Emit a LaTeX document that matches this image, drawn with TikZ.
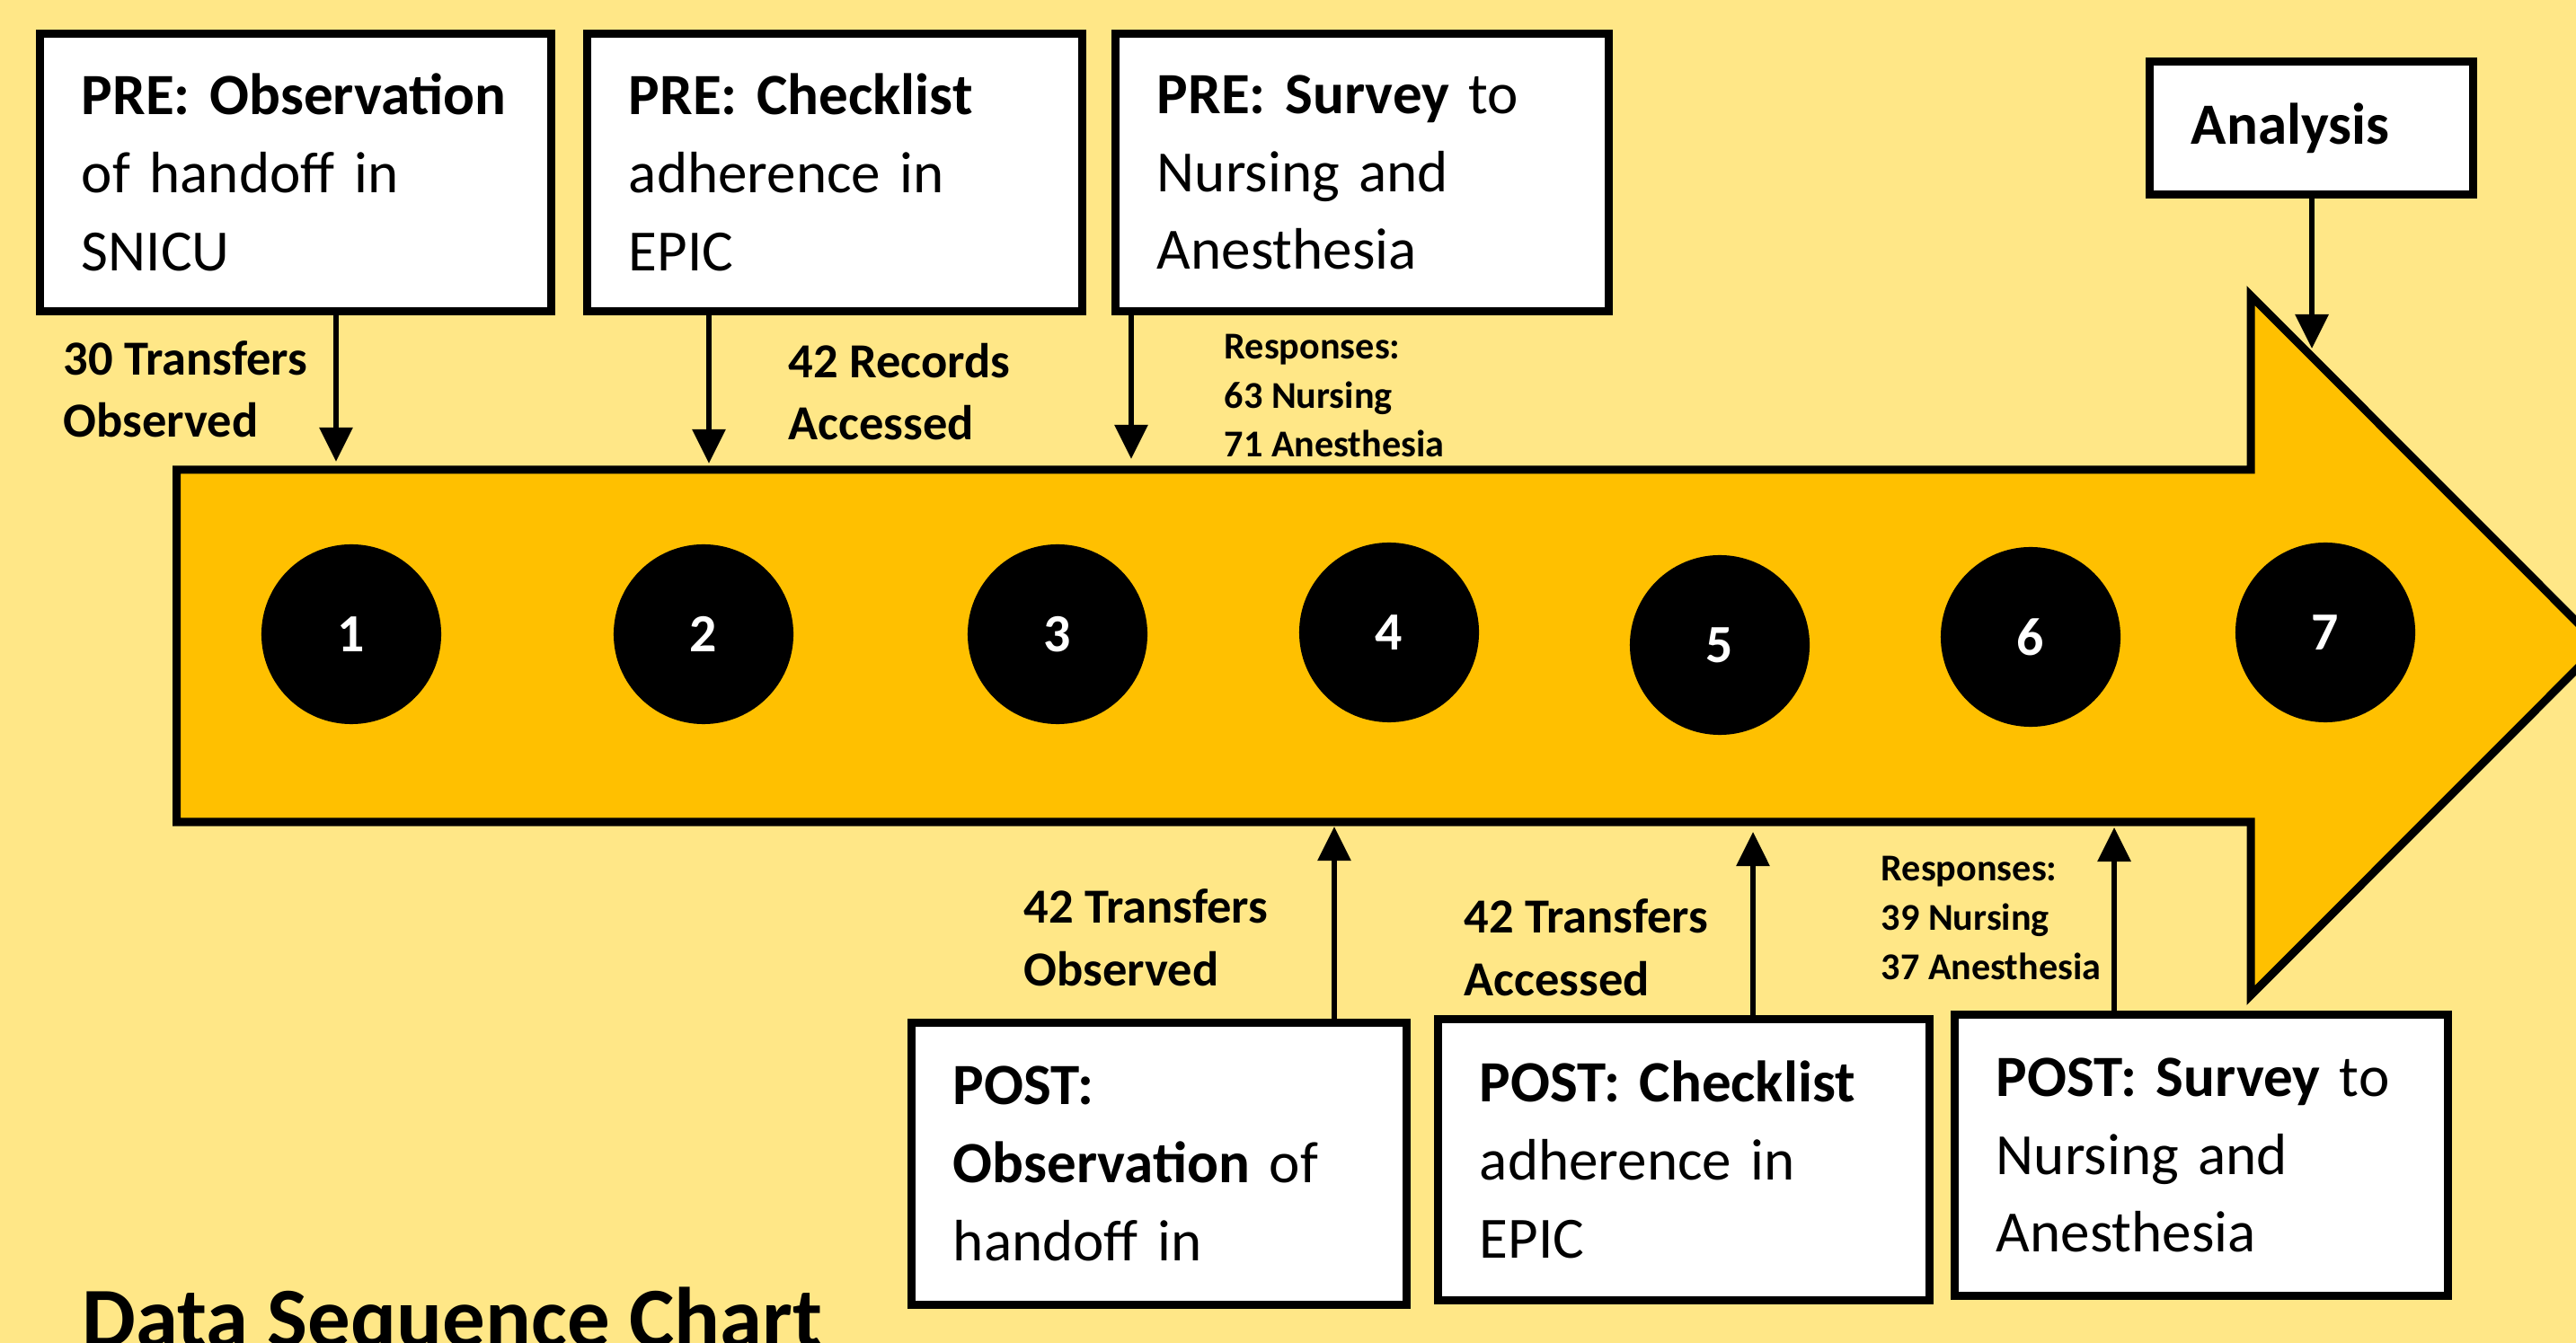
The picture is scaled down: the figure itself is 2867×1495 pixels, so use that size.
\documentclass[tikz,border=0pt]{standalone}
\usepackage{fontspec}
\setmainfont{Carlito}
\usetikzlibrary{arrows.meta}
\definecolor{bgyellow}{HTML}{FFE787}
\definecolor{arrowgold}{HTML}{FFC000}
\frenchspacing

\begin{document}
\begin{tikzpicture}[
    x=0.01cm, y=-0.01cm,
    stagebox/.style={draw, line width=2.56pt, fill=white, align=left, inner xsep=0.465cm, inner ysep=0pt, font=\fontsize{18.5pt}{24.7pt}\selectfont},
    stepdot/.style={circle, fill=black, minimum size=2cm, inner sep=0pt, text=white, font=\fontsize{17pt}{17pt}\selectfont\bfseries},
    tally/.style={anchor=base west, inner sep=0pt, align=left, font=\fontsize{15.5pt}{19.9pt}\selectfont\bfseries},
    reply/.style={tally, font=\fontsize{12pt}{15.5pt}\selectfont\bfseries},
    flow/.style={line width=1.7pt, -{Triangle[length=0.38cm,width=0.36cm]}}
]
    \useasboundingbox (0,0) rectangle (2867,1495);
    \clip (0,0) rectangle (2867,1495);
    \fill[bgyellow] (0,0) rectangle (2867,1495);

    % Big timeline arrow
    \draw[line width=2.56pt, fill=arrowgold] (196.5,523) -- (2505,523) -- (2505,329) -- (2894,718.5)
        -- (2505,1108) -- (2505,915) -- (196.5,915) -- cycle;

    % Numbered steps along the arrow
    \foreach \n/\x/\y in {1/391/706, 2/783/706, 3/1177/706, 4/1546/704, 5/1914/718, 6/2260/709, 7/2588/704} {
        \node[stepdot] (S\n) at (\x,\y) {\n};
    }

    % PRE boxes and analysis
    \node[stagebox, text width=4.76cm, minimum height=3.09cm] (pre1) at (329,192)
        {\textbf{PRE:~Observation}\\ of handoff in\\ SNICU};
    \node[stagebox, text width=4.58cm, minimum height=3.09cm] (pre2) at (929,192)
        {\textbf{PRE:~Checklist}\\ adherence in\\ EPIC};
    \node[stagebox, text width=4.56cm, minimum height=3.09cm] (pre3) at (1516,192)
        {\textbf{PRE:~Survey}~to\\ Nursing and\\ Anesthesia};
    \node[stagebox, text width=2.67cm, minimum height=1.48cm] (ana) at (2572.5,142.5) {\textbf{Analysis}};

    % POST boxes
    \node[stagebox, text width=4.58cm, minimum height=3.14cm] (post1) at (1290,1295.5)
        {\textbf{POST:}\\ \textbf{Observation}~of\\ handoff in};
    \node[stagebox, text width=4.54cm, minimum height=3.13cm] (post2) at (1874,1291)
        {\textbf{POST:~Checklist}\\ adherence in\\ EPIC};
    \node[stagebox, text width=4.56cm, minimum height=3.13cm] (post3) at (2450,1286)
        {\textbf{POST:~Survey}~to\\ Nursing and\\ Anesthesia};

    % Arrow ends on the timeline
    \coordinate (t1) at (374,514);
    \coordinate (t2) at (789,516);
    \coordinate (t3) at (1259,511);
    \coordinate (t7) at (2573,388);
    \coordinate (b1) at (1485,920);
    \coordinate (b2) at (1951,926);
    \coordinate (b3) at (2353,921);

    \draw[flow] (pre1.south -| t1) -- (t1);
    \draw[flow] (pre2.south -| t2) -- (t2);
    \draw[flow] (pre3.south -| t3) -- (t3);
    \draw[flow] (ana.south -| t7) -- (t7);
    \draw[flow] (post1.north -| b1) -- (b1);
    \draw[flow] (post2.north -| b2) -- (b2);
    \draw[flow] (post3.north -| b3) -- (b3);

    % Counts (anchored at last line)
    \node[tally] (n1) at (70,487) {30 Transfers\\Observed};
    \node[tally] (n2) at (877,490) {42 Records\\Accessed};
    \node[reply] (n3) at (1362,509) {Responses:\\63 Nursing\\71 Anesthesia};
    \node[tally] (n4) at (1139,1097) {42 Transfers\\Observed};
    \node[tally] (n5) at (1629,1108) {42 Transfers\\Accessed};
    \node[reply] (n6) at (2093,1090) {Responses:\\39 Nursing\\37 Anesthesia};

    \node[anchor=base west, inner sep=0pt, font=\fontsize{27pt}{27pt}\selectfont\bfseries] (title) at (91,1499) {Data Sequence Chart};
\end{tikzpicture}
\end{document}
